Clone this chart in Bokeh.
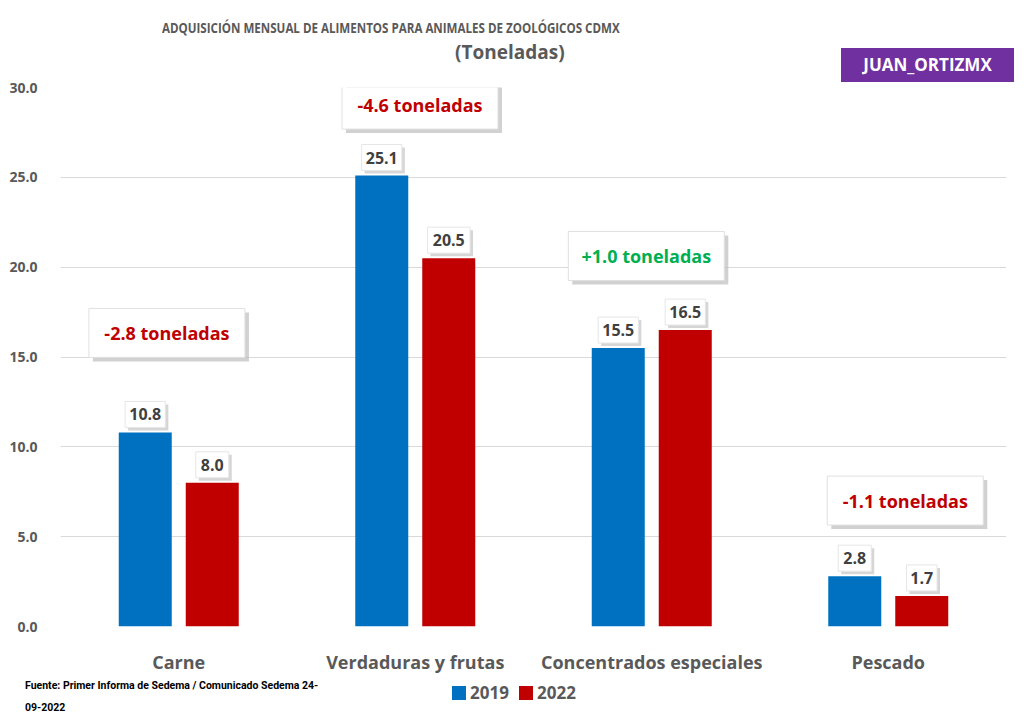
from bokeh.plotting import figure
from bokeh.models import (FactorRange, Range1d, ColumnDataSource, Div, FixedTicker,
                          NumeralTickFormatter)
from bokeh.layouts import column
from bokeh.transform import dodge
from bokeh.embed import file_html
from bokeh.resources import INLINE
from bokeh.core.properties import value

# ---------------- data ----------------
categories = ["Carne", "Verdaduras y frutas", "Concentrados especiales", "Pescado"]
values_2019 = [10.8, 25.1, 15.5, 2.8]
values_2022 = [8.0, 20.5, 16.5, 1.7]
series_names = ["2019", "2022"]
y_ticks = [0, 5, 10, 15, 20, 25, 30]
title_line1 = "ADQUISICIÓN MENSUAL DE ALIMENTOS PARA ANIMALES DE ZOOLÓGICOS CDMX"
title_line2 = "(Toneladas)"
badge_text = "JUAN_ORTIZMX"
source_line1 = "Fuente: Primer Informa de Sedema / Comunicado Sedema 24-"
source_line2 = "09-2022"

# annotation box placement (offset from group centre in category units, y in data units)
note_dx = [-0.05, 0.02, -0.023, 0.072]
note_y = [16.34, 29.05, 20.62, 7.01]

# ---------------- styles / layout ----------------
BLUE = "#0070C0"
RED = "#C00000"
GREEN = "#00B050"
GRAY_TXT = "#595959"
DARK_TXT = "#404040"
FONT = "Open Sans"

W = 1016
TOP_H = 75
BOT_H = 38
BL, BR, BT, BB = 60, 10, 12, 50
YMAX = 30
frame_w = W - BL - BR
frame_h = 539
FIG_H = BT + frame_h + BB
PXU_Y = frame_h / YMAX
PXU_X = frame_w / len(categories)

BAR_W = 53 / PXU_X
OFF = 33.5 / PXU_X

p = figure(x_range=FactorRange(*categories), y_range=Range1d(0, YMAX),
           width=W, height=FIG_H, output_backend="svg", toolbar_location=None,
           min_border_left=BL, min_border_right=BR, min_border_top=BT, min_border_bottom=BB,
           margin=0)
p.outline_line_color = None
p.background_fill_color = "white"
p.border_fill_color = "white"

p.yaxis.ticker = FixedTicker(ticks=y_ticks)
p.yaxis.formatter = NumeralTickFormatter(format="0.0")
p.yaxis.axis_line_color = None
p.yaxis.major_tick_line_color = None
p.yaxis.minor_tick_line_color = None
p.yaxis.major_label_standoff = 17
p.yaxis.major_label_text_font = FONT
p.yaxis.major_label_text_font_style = "bold"
p.yaxis.major_label_text_font_size = "14px"
p.yaxis.major_label_text_color = GRAY_TXT

p.xaxis.axis_line_color = None
p.xaxis.major_tick_line_color = None
p.xaxis.minor_tick_line_color = None
p.xaxis.major_label_standoff = 17
p.xaxis.major_label_text_font = FONT
p.xaxis.major_label_text_font_style = "bold"
p.xaxis.major_label_text_font_size = "18px"
p.xaxis.major_label_text_color = GRAY_TXT

p.xgrid.grid_line_color = None
p.ygrid.ticker = FixedTicker(ticks=y_ticks)
p.ygrid.grid_line_color = "#d9d9d9"
p.ygrid.grid_line_width = 1

# ---------------- bars ----------------
src = ColumnDataSource(dict(cat=categories, v19=values_2019, v22=values_2022))
p.vbar(x=dodge("cat", -OFF, range=p.x_range), top="v19", width=BAR_W, source=src,
       fill_color=BLUE, line_color=None)
p.vbar(x=dodge("cat", OFF, range=p.x_range), top="v22", width=BAR_W, source=src,
       fill_color=RED, line_color=None)


def text_w(s, size):
    w = 0.0
    for ch in s:
        if ch == "1":
            w += 0.45 * size
        elif ch == ".":
            w += 0.3 * size
        else:
            w += 0.6 * size
    return w


# ---------------- value labels ----------------
LAB_SIZE = 16
LAB_H = 26
LAB_UP = 18
for vals, off in ((values_2019, -OFF), (values_2022, OFF)):
    txt = [f"{v:.1f}" for v in vals]
    d = ColumnDataSource(dict(
        cat=categories,
        y=[v + LAB_UP / PXU_Y for v in vals],
        ysh=[v + (LAB_UP - 3) / PXU_Y for v in vals],
        w=[text_w(t, LAB_SIZE) + 9 for t in txt],
        txt=txt,
    ))
    p.rect(x=dodge("cat", off + 3 / PXU_X, range=p.x_range), y="ysh", width="w", height=LAB_H,
           width_units="screen", height_units="screen", source=d,
           fill_color="#c4c4c4", fill_alpha=0.7, line_color=None)
    p.rect(x=dodge("cat", off, range=p.x_range), y="y", width="w", height=LAB_H,
           width_units="screen", height_units="screen", source=d,
           fill_color="white", line_color="#e6e6e6")
    p.text(x=dodge("cat", off, range=p.x_range), y="y", text="txt", source=d,
           text_align="center", text_baseline="middle", text_font=value(FONT),
           text_font_style="bold", text_font_size=f"{LAB_SIZE}px", text_color=DARK_TXT)

# ---------------- difference notes ----------------
diffs = [b - a for a, b in zip(values_2019, values_2022)]
note_txt = [f"{d:+.1f} toneladas" for d in diffs]
note_col = [GREEN if d > 0 else RED for d in diffs]
for i, c in enumerate(categories):
    one = ColumnDataSource(dict(cat=[c], y=[note_y[i]], ysh=[note_y[i] - 4 / PXU_Y],
                                txt=[note_txt[i]], col=[note_col[i]]))
    p.rect(x=dodge("cat", note_dx[i] + 4 / PXU_X, range=p.x_range), y="ysh", width=156, height=49,
           width_units="screen", height_units="screen", source=one,
           fill_color="#bdbdbd", fill_alpha=0.7, line_color=None)
    p.rect(x=dodge("cat", note_dx[i], range=p.x_range), y="y", width=156, height=49,
           width_units="screen", height_units="screen", source=one,
           fill_color="white", line_color="#e0e0e0")
    p.text(x=dodge("cat", note_dx[i], range=p.x_range), y="y", text="txt", source=one,
           text_align="center", text_baseline="middle", text_font=value(FONT),
           text_font_style="bold", text_font_size="18px", text_color="col")

# ---------------- title, badge (top) ----------------
top_html = f"""
<div style="position:relative;width:{W}px;height:{TOP_H}px;font-family:'Open Sans';overflow:visible;">
  <div style="position:absolute;left:162px;top:17px;font-size:15px;font-weight:bold;color:{GRAY_TXT};
       white-space:nowrap;line-height:20px;transform-origin:left center;transform:scaleX(0.772);">{title_line1}</div>
  <div style="position:absolute;left:455px;top:40px;font-size:19px;font-weight:bold;color:{GRAY_TXT};
       white-space:nowrap;line-height:24px;">{title_line2}</div>
  <div style="position:absolute;left:841px;top:48px;width:173px;height:34px;background:#7030A0;
       color:white;font-size:17px;font-weight:bold;text-align:center;line-height:34px;">{badge_text}</div>
</div>"""
top = Div(text=top_html, width=W, height=TOP_H, margin=0,
          styles={"z-index": "5", "overflow": "visible"})

# ---------------- footer, legend (bottom) ----------------
bot_html = f"""
<div style="position:relative;width:{W}px;height:{BOT_H}px;font-family:'Open Sans';">
  <div style="position:absolute;left:25px;top:-1px;font-family:Roboto;font-size:10.5px;font-weight:bold;
       color:black;white-space:nowrap;line-height:22px;">{source_line1}<br>{source_line2}</div>
  <div style="position:absolute;left:452px;top:10px;width:14px;height:14px;background:{BLUE};"></div>
  <div style="position:absolute;left:470px;top:4px;font-size:17px;font-weight:bold;color:{GRAY_TXT};
       line-height:26px;">{series_names[0]}</div>
  <div style="position:absolute;left:519px;top:10px;width:14px;height:14px;background:{RED};"></div>
  <div style="position:absolute;left:537px;top:4px;font-size:17px;font-weight:bold;color:{GRAY_TXT};
       line-height:26px;">{series_names[1]}</div>
</div>"""
bot = Div(text=bot_html, width=W, height=BOT_H, margin=0)

layout = column(top, p, bot, spacing=0, margin=0)
open("out.html", "w").write(file_html(layout, INLINE))
